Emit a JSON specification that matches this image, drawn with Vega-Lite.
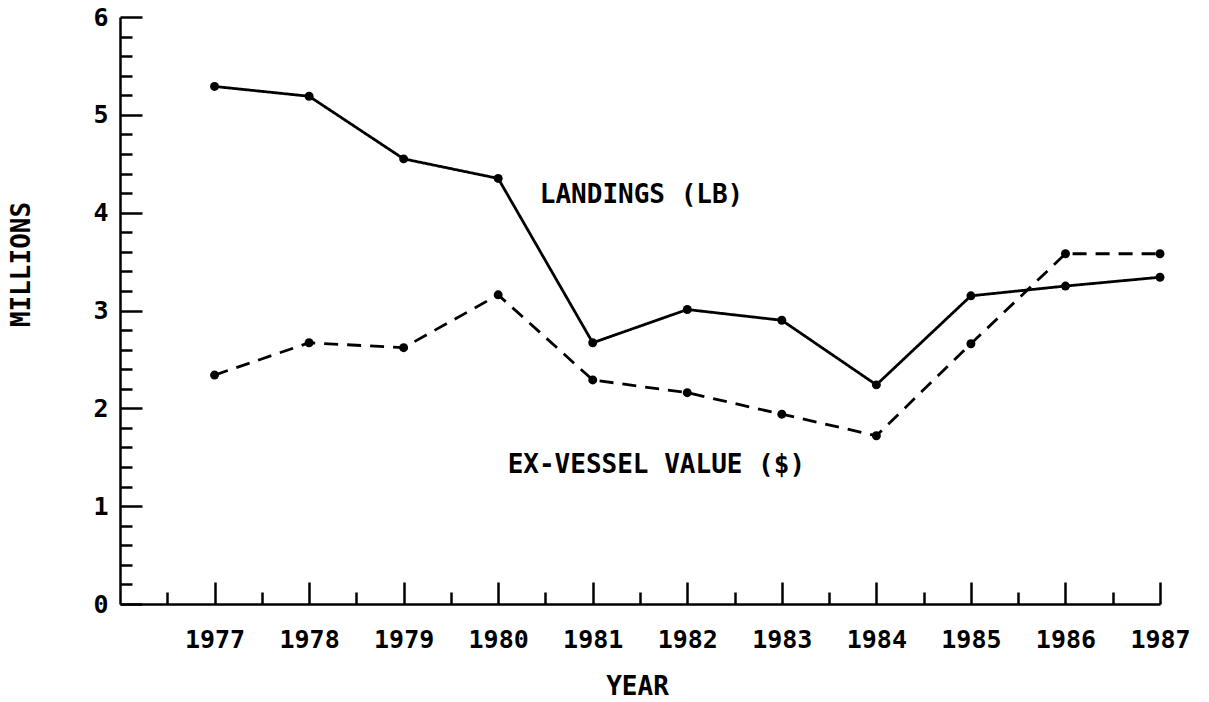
{
  "$schema": "https://vega.github.io/schema/vega-lite/v6.json",
  "width": 1040,
  "height": 587,
  "autosize": {"type": "none"},
  "padding": {"left": 120, "top": 17, "right": 49, "bottom": 98},
  "background": "white",
  "config": {"view": {"stroke": null}, "font": "DejaVu Sans Mono"},
  "datasets": {
    "series": [
      {"year": 1977, "series": "Landings", "value": 5.29},
      {"year": 1978, "series": "Landings", "value": 5.19},
      {"year": 1979, "series": "Landings", "value": 4.55},
      {"year": 1980, "series": "Landings", "value": 4.35},
      {"year": 1981, "series": "Landings", "value": 2.67},
      {"year": 1982, "series": "Landings", "value": 3.01},
      {"year": 1983, "series": "Landings", "value": 2.9},
      {"year": 1984, "series": "Landings", "value": 2.24},
      {"year": 1985, "series": "Landings", "value": 3.15},
      {"year": 1986, "series": "Landings", "value": 3.25},
      {"year": 1987, "series": "Landings", "value": 3.34},
      {"year": 1977, "series": "Value", "value": 2.34},
      {"year": 1978, "series": "Value", "value": 2.67},
      {"year": 1979, "series": "Value", "value": 2.62},
      {"year": 1980, "series": "Value", "value": 3.16},
      {"year": 1981, "series": "Value", "value": 2.29},
      {"year": 1982, "series": "Value", "value": 2.16},
      {"year": 1983, "series": "Value", "value": 1.94},
      {"year": 1984, "series": "Value", "value": 1.72},
      {"year": 1985, "series": "Value", "value": 2.66},
      {"year": 1986, "series": "Value", "value": 3.58},
      {"year": 1987, "series": "Value", "value": 3.58}
    ],
    "labels": [
      {"year": 1980.44, "value": 4.1, "text": "LANDINGS (LB)"},
      {"year": 1980.1, "value": 1.34, "text": "EX-VESSEL VALUE ($)"}
    ]
  },
  "encoding": {
    "x": {
      "field": "year",
      "type": "quantitative",
      "scale": {"domain": [1976, 1987], "nice": false, "zero": false},
      "axis": {
        "title": "YEAR",
        "values": [1976.5, 1977, 1977.5, 1978, 1978.5, 1979, 1979.5, 1980, 1980.5, 1981, 1981.5, 1982, 1982.5, 1983, 1983.5, 1984, 1984.5, 1985, 1985.5, 1986, 1986.5, 1987],
        "labelExpr": "datum.value % 1 === 0 ? '' + datum.value : ''",
        "tickSize": {"condition": {"test": "datum.value % 1 === 0", "value": -22}, "value": -12},
        "tickColor": "black",
        "tickWidth": 2.5,
        "domainColor": "black",
        "domainWidth": 2.5,
        "grid": false,
        "labelFont": "DejaVu Sans Mono",
        "labelFontWeight": "bold",
        "labelFontSize": 25,
        "labelColor": "black",
        "labelBaseline": "top",
        "labelPadding": 45,
        "labelFlush": false,
        "labelOverlap": false,
        "titleFont": "DejaVu Sans Mono",
        "titleFontWeight": "bold",
        "titleFontSize": 26,
        "titleColor": "black",
        "titleX": 517,
        "titleY": 82,
        "titleAlign": "center",
        "titleBaseline": "middle"
      }
    },
    "y": {
      "field": "value",
      "type": "quantitative",
      "scale": {"domain": [0, 6], "nice": false},
      "axis": {
        "title": "MILLIONS",
        "values": [0, 0.2, 0.4, 0.6, 0.8, 1, 1.2, 1.4, 1.6, 1.8, 2, 2.2, 2.4, 2.6, 2.8, 3, 3.2, 3.4, 3.6, 3.8, 4, 4.2, 4.4, 4.6, 4.8, 5, 5.2, 5.4, 5.6, 5.8, 6],
        "labelExpr": "datum.value % 1 === 0 ? '' + datum.value : ''",
        "tickSize": {"condition": {"test": "datum.value % 1 === 0", "value": -22}, "value": -12},
        "tickColor": "black",
        "tickWidth": 2.5,
        "domainColor": "black",
        "domainWidth": 2.5,
        "grid": false,
        "labelFont": "DejaVu Sans Mono",
        "labelFontWeight": "bold",
        "labelFontSize": 25,
        "labelColor": "black",
        "labelBaseline": "middle",
        "labelPadding": 34,
        "labelFlush": false,
        "labelOverlap": false,
        "titleFont": "DejaVu Sans Mono",
        "titleFontWeight": "bold",
        "titleFontSize": 26,
        "titleColor": "black",
        "titleAngle": -90,
        "titleX": -99,
        "titleY": 247,
        "titleAlign": "center",
        "titleBaseline": "middle"
      }
    }
  },
  "layer": [
    {
      "data": {"name": "series"},
      "mark": {"type": "line", "color": "black", "strokeWidth": 2.8},
      "encoding": {
        "detail": {"field": "series"},
        "strokeDash": {
          "field": "series",
          "type": "nominal",
          "scale": {"domain": ["Landings", "Value"], "range": [[1, 0], [14, 9]]},
          "legend": null
        }
      }
    },
    {
      "data": {"name": "series"},
      "mark": {"type": "circle", "color": "black", "size": 80, "opacity": 1}
    },
    {
      "data": {"name": "labels"},
      "mark": {"type": "text", "align": "left", "baseline": "alphabetic", "fontSize": 26, "fontWeight": "bold", "font": "DejaVu Sans Mono", "color": "black"},
      "encoding": {"text": {"field": "text"}}
    }
  ]
}
